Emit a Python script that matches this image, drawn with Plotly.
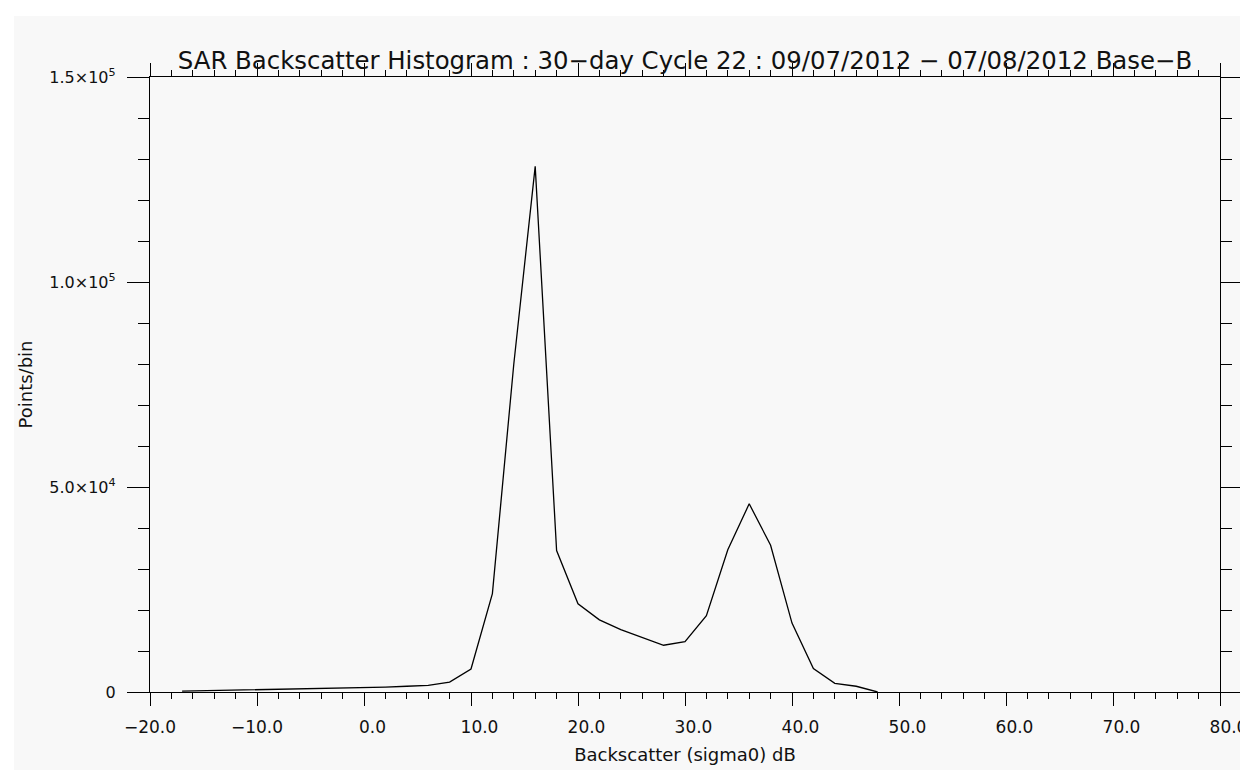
import plotly.graph_objects as go

# Histogram (bin centre in dB, points per bin)
sigma0_db = [-17, -16, -14, -12, -10, -8, -6, -4, -2, 0, 2, 4, 6, 8, 10, 12, 14, 16,
             18, 20, 22, 24, 26, 28, 30, 32, 34, 36, 38, 40, 42, 44, 46, 48]
points_per_bin = [200, 250, 300, 400, 500, 700, 800, 900, 1000, 1100, 1200, 1400, 1600,
                  2400, 5600, 24000, 80000, 128200, 34500, 21500, 17600, 15200, 13300,
                  11400, 12300, 18600, 34700, 45900, 35800, 16800, 5700, 2100, 1400, 0]

x_tickvals = [-20, -10, 0, 10, 20, 30, 40, 50, 60, 70, 80]
# IDL leaves room for a sign in front of positive labels
x_ticktext = ["\u221220.0", "\u221210.0", "\u20030.0", "\u200310.0", "\u200320.0", "\u200330.0",
              "\u200340.0", "\u200350.0", "\u200360.0", "\u200370.0", "\u200380.0"]
y_tickvals = [0, 50000, 100000, 150000]
y_ticktext = ["0", "5.0\u00d710<sup>4</sup>", "1.0\u00d710<sup>5</sup>", "1.5\u00d710<sup>5</sup>"]

title_text = "SAR Backscatter Histogram : 30\u2212day Cycle 22 : 09/07/2012 \u2212 07/08/2012 Base\u2212B"

FONT = "DejaVu Sans"
INK = "#111111"
BG = "#f8f8f8"

fig = go.Figure()
fig.add_trace(go.Scatter(
    x=sigma0_db,
    y=points_per_bin,
    mode="lines",
    line=dict(color="black", width=1.3),
    showlegend=False,
))

# plot area: x 142..1212 px, y 69..684 px
def px_x(px):
    return (px - 142) / 1070

def px_y(py):
    return (684 - py) / 615

# white border round the grey image (drawn on top so it also clips "80.0")
white = dict(type="rect", xref="paper", yref="paper", fillcolor="white",
             line=dict(width=0), layer="above")
shapes = [
    dict(white, x0=px_x(-5), x1=px_x(6), y0=px_y(780), y1=px_y(-5)),
    dict(white, x0=px_x(1235), x1=px_x(1260), y0=px_y(780), y1=px_y(-5)),
    dict(white, x0=px_x(-5), x1=px_x(1260), y0=px_y(8), y1=px_y(-5)),
    dict(white, x0=px_x(-5), x1=px_x(1260), y0=px_y(780), y1=px_y(763)),
]

fig.update_layout(
    width=1248,
    height=770,
    margin=dict(l=142, r=36, t=69, b=86),
    paper_bgcolor=BG,
    plot_bgcolor=BG,
    font=dict(family=FONT, color=INK, size=17),
    title=dict(
        text=title_text,
        font=dict(family=FONT, size=24.4, color=INK),
        x=0.5, xref="paper", xanchor="center",
        y=1 - 52 / 770, yref="container", yanchor="middle",
    ),
    shapes=shapes,
)

fig.update_xaxes(
    range=[-20, 80],
    tickvals=x_tickvals,
    ticktext=x_ticktext,
    ticks="outside",
    ticklen=13,
    tickwidth=1.3,
    tickcolor="black",
    ticklabelstandoff=6,
    showline=True,
    linecolor="black",
    linewidth=1.3,
    mirror="allticks",
    showgrid=False,
    zeroline=False,
    automargin=False,
    minor=dict(dtick=2, ticks="outside", ticklen=6, tickwidth=1.3, tickcolor="black"),
    title=dict(text="Backscatter (sigma0) dB", font=dict(family=FONT, size=18, color=INK), standoff=12),
)

fig.update_yaxes(
    range=[0, 150000],
    tickvals=y_tickvals,
    ticktext=y_ticktext,
    tickfont=dict(size=16),
    ticks="outside",
    ticklen=22,
    tickwidth=1.3,
    tickcolor="black",
    ticklabelstandoff=8,
    showline=True,
    linecolor="black",
    linewidth=1.3,
    mirror="allticks",
    showgrid=False,
    zeroline=False,
    automargin=False,
    minor=dict(dtick=10000, ticks="outside", ticklen=11, tickwidth=1.3, tickcolor="black"),
    title=dict(text="Points/bin", font=dict(family=FONT, size=18, color=INK), standoff=12),
)

fig.write_html("out.html")
